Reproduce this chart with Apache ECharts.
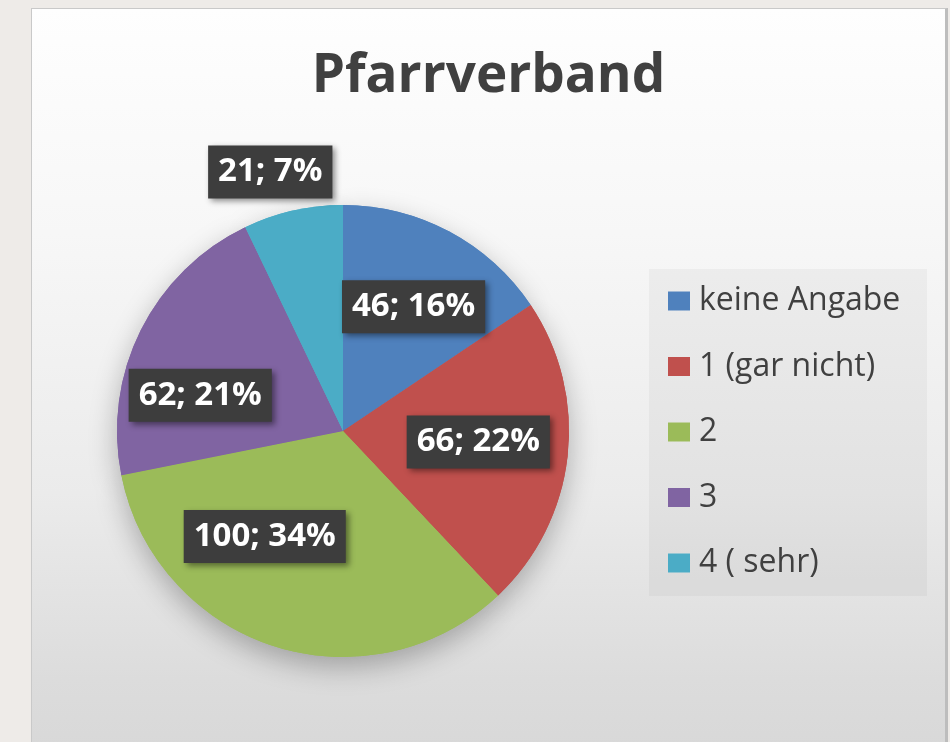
<!DOCTYPE html>
<html>
<head>
<meta charset="utf-8">
<script src="https://cdn.jsdelivr.net/npm/echarts@6/dist/echarts.min.js"></script>
<style>
  html, body { margin: 0; padding: 0; background: #eeebe8; overflow: hidden; }
  #panel {
    position: absolute; left: 31px; top: 8px; width: 913px; height: 745px;
    border: 1px solid #c9c9c9; border-right: 3px solid #bdbdbd;
    background: linear-gradient(#fefefe 0%, #f7f7f7 30%, #ebebeb 65%, #dcdcdc 90%, #d8d8d8 100%);
  }
  #main { width: 913px; height: 745px; }
</style>
</head>
<body>
<div id="panel"><div id="main"></div></div>
<script>
// chart data
var categories = ['keine Angabe', '1 (gar nicht)', '2', '3', '4 ( sehr)'];
var values = [46, 66, 100, 62, 21];
var colors = ['#4f81bd', '#c0504d', '#9bbb59', '#8064a2', '#4bacc6'];

// label nudges like excel's "best fit"
var labelShift = [[16, -22], [20, -2], [-43, -5], [-39, 16], [-47, -146]];

var total = values.reduce(function (a, b) { return a + b; }, 0);

var pieData = categories.map(function (name, i) {
    return { name: name, value: values[i], itemStyle: { color: colors[i] } };
});

var myChart = echarts.init(document.getElementById('main'));

var option = {
    animation: false,
    title: {
        text: 'Pfarrverband',
        left: 'center',
        top: 36,
        textStyle: {
            fontFamily: 'Open Sans',
            fontSize: 53,
            fontWeight: 'bold',
            color: '#404040'
        }
    },
    graphic: [{
        type: 'rect',
        left: 617,
        top: 260,
        z: -1,
        shape: { width: 278, height: 327 },
        style: { fill: 'rgba(0,0,0,0.035)' }
    }],
    legend: {
        orient: 'vertical',
        left: 617,
        top: 260,
        padding: [16, 14, 16, 19],
        itemWidth: 22,
        itemHeight: 19,
        itemGap: 33.5,
        icon: 'rect',
        data: categories,
        textStyle: {
            fontFamily: 'Open Sans',
            fontSize: 32,
            color: '#404040',
            padding: [0, 0, 0, 4]
        }
    },
    series: [
        {
            // shadow layer under the pie
            type: 'pie',
            silent: true,
            center: [311, 422],
            radius: 226,
            startAngle: 90,
            z: 1,
            legendHoverLink: false,
            label: { show: false },
            labelLine: { show: false },
            itemStyle: {
                shadowBlur: 28,
                shadowColor: 'rgba(0,0,0,0.28)',
                shadowOffsetY: 10
            },
            data: pieData
        },
        {
            name: 'Pfarrverband',
            type: 'pie',
            center: [311, 422],
            radius: 226,
            startAngle: 90,
            z: 2,
            label: {
                show: true,
                position: 'inside',
                formatter: function (p) {
                    return p.value + '; ' + Math.round(p.value / total * 100) + '%';
                },
                fontFamily: 'Open Sans',
                fontSize: 33,
                fontWeight: 'bold',
                color: '#ffffff',
                backgroundColor: '#3d3d3d',
                padding: [11, 10, 9, 10],
                shadowBlur: 6,
                shadowColor: 'rgba(0,0,0,0.45)',
                shadowOffsetX: 3,
                shadowOffsetY: 3
            },
            labelLine: { show: false },
            labelLayout: function (params) {
                var s = labelShift[params.dataIndex];
                return { dx: s[0], dy: s[1] };
            },
            data: pieData
        }
    ]
};

myChart.setOption(option);
</script>
</body>
</html>
